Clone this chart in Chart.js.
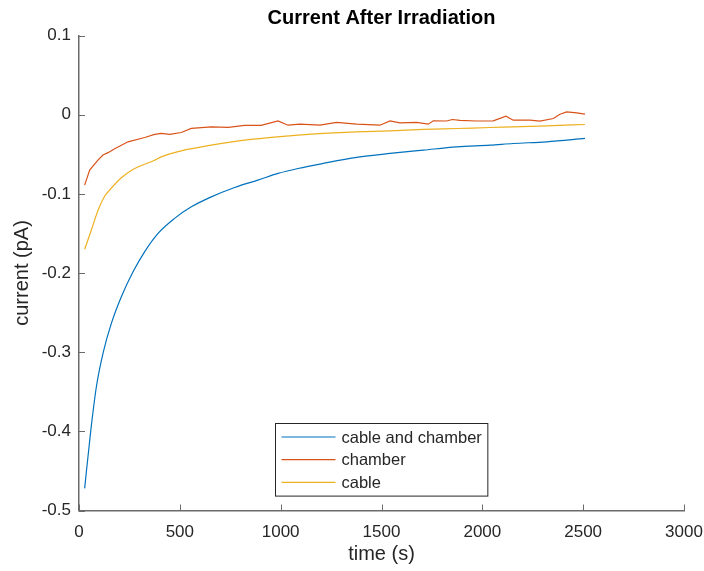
<!DOCTYPE html>
<html lang="en">
<head>
  <meta charset="UTF-8">
  <title>Current After Irradiation</title>
  <style>
    body {
      margin: 0;
      background: #ffffff;
      overflow: hidden;
    }
    #wrap {
      width: 704px;
      height: 571px;
      position: relative;
    }
  </style>
</head>
<body>
  <div id="wrap"><canvas id="chartCurrent"></canvas></div>

  <script src="https://cdn.jsdelivr.net/npm/chart.js"></script>
  <script>
    // values (time in s, current in pA)
    const cableChamberTime = [28, 58, 86, 119, 160, 210, 268, 326, 392, 474, 557, 656, 772, 887, 987, 1086, 1211, 1377, 1542, 1707, 1873, 2038, 2153, 2319, 2509];
    const cableChamberCurrent = [-0.472, -0.400, -0.344, -0.3015, -0.264, -0.230, -0.1985, -0.173, -0.150, -0.131, -0.1164, -0.1038, -0.092, -0.0827, -0.0742, -0.068, -0.0616, -0.054, -0.049, -0.0448, -0.0406, -0.0385, -0.0364, -0.0343, -0.030];

    const chamberTime = [28, 53, 94, 119, 144, 177, 243, 326, 375, 408, 450, 507, 557, 656, 740, 821, 903, 987, 1036, 1096, 1195, 1277, 1377, 1492, 1542, 1591, 1674, 1732, 1757, 1823, 1851, 1889, 1971, 2054, 2117, 2153, 2236, 2286, 2352, 2385, 2418, 2468, 2509];
    const chamberCurrent = [-0.089, -0.070, -0.0575, -0.051, -0.048, -0.043, -0.0343, -0.0288, -0.025, -0.0237, -0.025, -0.0225, -0.0174, -0.0154, -0.016, -0.0136, -0.0136, -0.0078, -0.0133, -0.012, -0.0133, -0.0098, -0.012, -0.0133, -0.0078, -0.0103, -0.0098, -0.012, -0.0078, -0.008, -0.0061, -0.0072, -0.008, -0.0078, -0.0019, -0.007, -0.007, -0.0082, -0.0048, 0.0006, 0.0035, 0.0022, 0.0006];

    const cableTime = [28, 61, 94, 127, 144, 210, 276, 375, 408, 507, 656, 821, 953, 1086, 1211, 1377, 1542, 1707, 1873, 2038, 2153, 2319, 2509];
    const cableCurrent = [-0.170, -0.146, -0.121, -0.103, -0.0975, -0.0796, -0.068, -0.0575, -0.0533, -0.0457, -0.0385, -0.0322, -0.0288, -0.0259, -0.0237, -0.0217, -0.0205, -0.0187, -0.0175, -0.0162, -0.0154, -0.0141, -0.0124];

    const seriesLabels = ['cable and chamber', 'chamber', 'cable'];
    const seriesColors = ['#0072BD', '#D95319', '#EDB120'];
    const xTickLabels = ['0', '500', '1000', '1500', '2000', '2500', '3000'];
    const yTickLabels = ['-0.5', '-0.4', '-0.3', '-0.2', '-0.1', '0', '0.1'];

    const FONT = '"Liberation Sans", Arial, Helvetica, sans-serif';
    const TEXT = '#262626';
    const AXIS = '#6a6a6a';

    function toPoints(xs, ys) {
      return xs.map((x, i) => ({ x: x, y: ys[i] }));
    }

    // title centred over the plot area, like MATLAB
    const titlePlugin = {
      id: 'plotTitle',
      afterDraw(chart) {
        const ctx = chart.ctx;
        const area = chart.chartArea;
        ctx.save();
        ctx.font = 'bold 20px ' + FONT;
        ctx.fillStyle = '#000000';
        ctx.textAlign = 'center';
        ctx.textBaseline = 'middle';
        ctx.fillText('Current After Irradiation', (area.left + area.right) / 2, 18.5);
        ctx.restore();
      }
    };

    // tick marks pointing into the plot
    const innerTicks = {
      id: 'innerTicks',
      afterDatasetsDraw(chart) {
        const ctx = chart.ctx;
        const xs = chart.scales.x;
        const ys = chart.scales.y;
        const len = 6;
        ctx.save();
        ctx.strokeStyle = AXIS;
        ctx.lineWidth = 1;
        ctx.beginPath();
        xs.ticks.forEach(t => {
          const px = Math.round(xs.getPixelForValue(t.value)) + 0.5;
          ctx.moveTo(px, ys.bottom);
          ctx.lineTo(px, ys.bottom - len);
        });
        ys.ticks.forEach(t => {
          const py = Math.round(ys.getPixelForValue(t.value)) + 0.5;
          ctx.moveTo(xs.left, py);
          ctx.lineTo(xs.left + len, py);
        });
        ctx.stroke();
        ctx.restore();
      }
    };

    // boxed legend inside the axes, bottom centre
    const boxLegend = {
      id: 'boxLegend',
      afterDraw(chart) {
        const ctx = chart.ctx;
        const area = chart.chartArea;
        const sets = chart.data.datasets;
        ctx.save();
        ctx.font = '16.5px ' + FONT;
        let tw = 0;
        sets.forEach(d => { tw = Math.max(tw, ctx.measureText(d.label).width); });
        const w = 6 + 54 + 6 + tw + 6;
        const rowH = 22.7;
        const h = rowH * sets.length + 4.5;
        const left = Math.round((area.left + area.right) / 2 - w / 2) + 0.5;
        const top = Math.round(area.bottom - 15 - h) + 0.5;
        ctx.fillStyle = '#ffffff';
        ctx.fillRect(left, top, w, h);
        ctx.strokeStyle = TEXT;
        ctx.lineWidth = 1;
        ctx.strokeRect(left, top, w, h);
        ctx.textBaseline = 'middle';
        ctx.textAlign = 'left';
        sets.forEach((d, i) => {
          const y = top + 13.5 + i * rowH;
          ctx.strokeStyle = d.borderColor;
          ctx.lineWidth = 1.2;
          ctx.beginPath();
          ctx.moveTo(left + 6, y);
          ctx.lineTo(left + 60, y);
          ctx.stroke();
          ctx.fillStyle = TEXT;
          ctx.fillText(d.label, left + 66, y + 1);
        });
        ctx.restore();
      }
    };

    const pairs = [
      [cableChamberTime, cableChamberCurrent, 'monotone'],
      [chamberTime, chamberCurrent, 'default'],
      [cableTime, cableCurrent, 'monotone']
    ];

    new Chart(document.getElementById('chartCurrent'), {
      type: 'line',
      data: {
        datasets: pairs.map((p, i) => ({
          label: seriesLabels[i],
          data: toPoints(p[0], p[1]),
          borderColor: seriesColors[i],
          backgroundColor: seriesColors[i],
          borderWidth: 1.2,
          pointRadius: 0,
          fill: false,
          tension: 0,
          cubicInterpolationMode: p[2]
        }))
      },
      options: {
        responsive: true,
        maintainAspectRatio: false,
        animation: false,
        layout: { padding: { top: 35.5, right: 20, bottom: 0, left: 0 } },
        plugins: {
          legend: { display: false },
          title: { display: false },
          tooltip: { enabled: false }
        },
        scales: {
          x: {
            type: 'linear',
            min: 0,
            max: 3000,
            grid: { drawOnChartArea: false, drawTicks: false },
            border: { display: true, color: AXIS, width: 1.5 },
            ticks: {
              stepSize: 500,
              maxRotation: 0,
              padding: 12,
              color: TEXT,
              font: { family: FONT, size: 17 },
              callback: (v, i) => xTickLabels[i]
            },
            title: {
              display: true,
              text: 'time (s)',
              color: TEXT,
              font: { family: FONT, size: 20 },
              padding: { top: 0, bottom: 5 }
            },
            afterFit: s => {
              s.height = 60.5;
              s.paddingLeft = 0;
              s.paddingRight = 0;
            }
          },
          y: {
            min: -0.5,
            max: 0.1,
            grid: { drawOnChartArea: false, drawTicks: false },
            border: { display: true, color: AXIS, width: 1.5 },
            ticks: {
              stepSize: 0.1,
              padding: 8,
              color: TEXT,
              font: { family: FONT, size: 17 },
              callback: (v, i) => yTickLabels[i]
            },
            title: {
              display: true,
              text: 'current (pA)',
              color: TEXT,
              font: { family: FONT, size: 20 },
              padding: { top: 10, bottom: 0 }
            },
            afterFit: s => { s.width = 79; }
          }
        }
      },
      plugins: [innerTicks, boxLegend, titlePlugin]
    });
  </script>
</body>
</html>
